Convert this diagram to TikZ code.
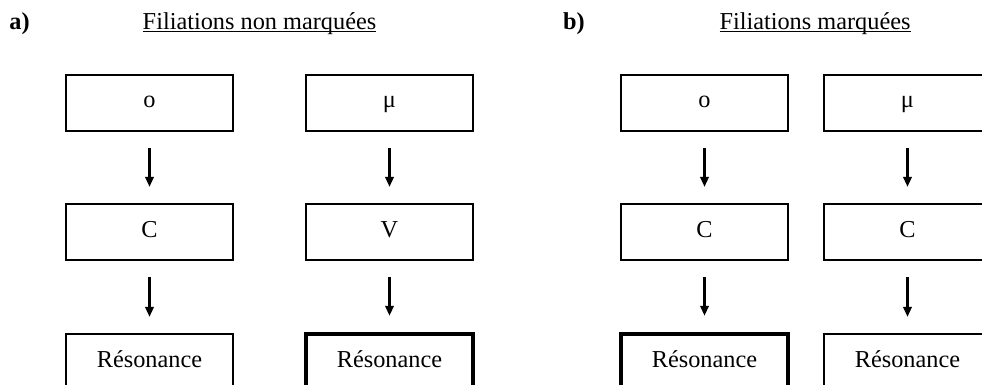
\documentclass[tikz,border=0pt]{standalone}
\usepackage{fontspec}
\setmainfont{Liberation Serif}
\usetikzlibrary{arrows.meta,positioning}

\begin{document}
\begin{tikzpicture}[x=1pt,y=-1pt,
  font=\fontsize{24.3}{29}\selectfont,
  box/.style={draw,line width=1.3pt,minimum width=167pt,minimum height=56pt,inner sep=0pt,text height=16pt,text depth=6pt},
  marked/.style={box,line width=3.5pt},
  arrow/.style={-{Triangle[length=10pt,width=8.5pt]},line width=2.2pt,shorten <=16.5pt,shorten >=16.5pt},
  heading/.style={anchor=base,inner sep=0pt}
]
\useasboundingbox (0,0) rectangle (982,385);
\clip (0,0) rectangle (982,385);
% panel a
\node[heading] (a-tag) at (19.6,30) {\textbf{a)}};
\node[heading] (a-title) at (259.5,30) {\underline{\smash{Filiations non marquées}}};
\node[box] (a-o) at (149.5,103) {o};
\node[box] (a-mu) at (389.5,103) {μ};
\node[box] (a-c) at (149.5,232) {C};
\node[box] (a-v) at (389.5,232) {V};
\node[box] (a-res1) at (149.5,362) {Résonance};
\node[marked] (a-res2) at (389.5,362) {Résonance};
\draw[arrow] (a-o) -- (a-c);
\draw[arrow] (a-mu) -- (a-v);
\draw[arrow] (a-c) -- (a-res1);
\draw[arrow] (a-v) -- (a-res2);
% panel b
\node[heading] (b-tag) at (574,30) {\textbf{b)}};
\node[heading] (b-title) at (815,30) {\underline{\smash{Filiations marquées}}};
\node[box] (b-o) at (704.5,103) {o};
\node[box] (b-mu) at (907.5,103) {μ};
\node[box] (b-c1) at (704.5,232) {C};
\node[box] (b-c2) at (907.5,232) {C};
\node[marked] (b-res1) at (704.5,362) {Résonance};
\node[box] (b-res2) at (907.5,362) {Résonance};
\draw[arrow] (b-o) -- (b-c1);
\draw[arrow] (b-mu) -- (b-c2);
\draw[arrow] (b-c1) -- (b-res1);
\draw[arrow] (b-c2) -- (b-res2);
\end{tikzpicture}
\end{document}
